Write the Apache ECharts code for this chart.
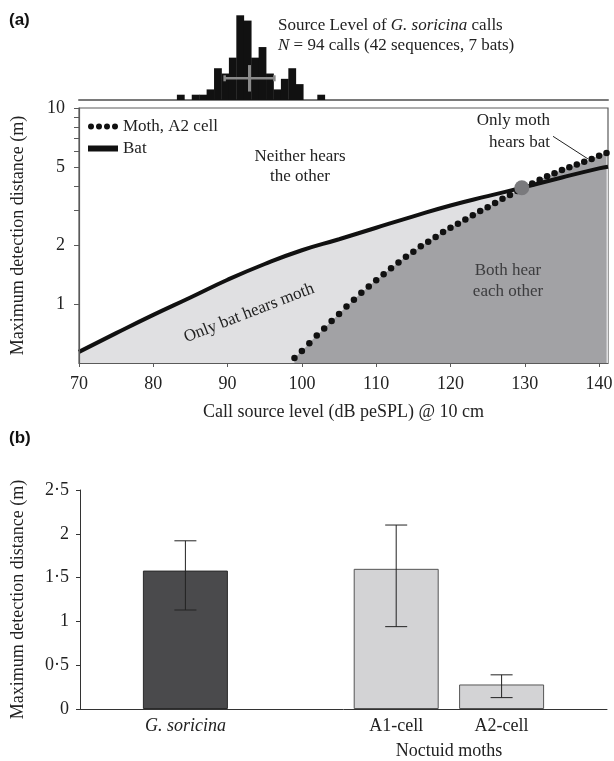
<!DOCTYPE html>
<html>
<head>
<meta charset="utf-8">
<script src="https://cdn.jsdelivr.net/npm/echarts@6/dist/echarts.min.js"></script>
<style>
html, body { margin: 0; padding: 0; background: #fff; }
#chart { width: 614px; height: 761px; }
</style>
</head>
<body>
<div id="chart"></div>
<script>
// (a) top: source level histogram of G. soricina calls
var histBins = [83.7, 85.7, 86.7, 87.7, 88.7, 89.7, 90.7, 91.7, 92.7, 93.7, 94.7, 95.7, 96.7, 97.7, 98.7, 99.7, 102.6];
var histCounts = [1, 1, 1, 2, 6, 5, 8, 16, 15, 8, 10, 5, 2, 4, 6, 3, 1];
var slMean = 92.95;
var slSd = 3.35;

// (a) detection distance vs call source level
var batDb = [70, 75, 80, 85, 90, 95, 100, 105, 110, 115, 120, 125, 130, 135, 140, 141.2];
var batDist = [0.57, 0.71, 0.88, 1.08, 1.33, 1.60, 1.88, 2.14, 2.45, 2.80, 3.18, 3.55, 3.95, 4.42, 4.92, 5.02];
var mothDb = [99, 100, 101, 102, 103, 104, 105, 106, 107, 108, 109, 110, 111, 112, 113, 114, 115, 116, 117, 118, 119, 120,
    121, 122, 123, 124, 125, 126, 127, 128, 129, 130, 131, 132, 133, 134, 135, 136, 137, 138, 139, 140, 141];
var mothDist = [0.53, 0.575, 0.63, 0.69, 0.75, 0.82, 0.89, 0.97, 1.05, 1.14, 1.23, 1.32, 1.42, 1.52, 1.63, 1.74, 1.85, 1.97,
    2.08, 2.20, 2.33, 2.45, 2.57, 2.70, 2.84, 2.98, 3.12, 3.28, 3.44, 3.60, 3.77, 3.95, 4.12, 4.30, 4.48, 4.65, 4.82, 4.98,
    5.15, 5.32, 5.50, 5.70, 5.90];
var crossPoint = [129.6, 3.92];
var xTicks = [70, 80, 90, 100, 110, 120, 130, 140];
var yLabelVals = [1, 2, 5, 10];
var yTickVals = [1, 2, 3, 4, 5, 6, 7, 8, 9, 10];

// (b) maximum detection distance
var barCats = ['', 'G. soricina', ' ', 'A1-cell', 'A2-cell', '  '];
var barMeans = [null, 1.58, null, 1.60, 0.28, null];
var barLow = [null, 1.13, null, 0.94, 0.13, null];
var barHigh = [null, 1.92, null, 2.10, 0.39, null];

var serif = 'Liberation Serif';

function pairs(xs, ys) {
    return xs.map(function (x, i) { return [x, ys[i]]; });
}

var errData = [];
for (var i = 0; i < barMeans.length; i++) {
    if (barMeans[i] != null) errData.push([i, barLow[i], barHigh[i]]);
}

var dotsIcon = 'path://M0,3a3,3 0 1,0 6,0a3,3 0 1,0 -6,0M8,3a3,3 0 1,0 6,0a3,3 0 1,0 -6,0' +
    'M16,3a3,3 0 1,0 6,0a3,3 0 1,0 -6,0M24,3a3,3 0 1,0 6,0a3,3 0 1,0 -6,0';

var myChart = echarts.init(document.getElementById('chart'), null, {width: 614, height: 761});
var option = {
    animation: false,
    backgroundColor: '#fff',
    textStyle: {fontFamily: serif},
    grid: [
        {left: 79, right: 6, top: 10, height: 90, outerBoundsMode: 'none'},
        {left: 79, right: 6, top: 108, height: 255, outerBoundsMode: 'none',
            show: true, borderColor: '#5a5a5a', borderWidth: 1.2, z: 3},
        {left: 80, right: 7, top: 490, height: 219, outerBoundsMode: 'none'}
    ],
    legend: {
        data: [
            {name: 'Moth, A2 cell', icon: dotsIcon},
            {name: 'Bat', icon: 'rect'}
        ],
        orient: 'vertical',
        left: 83,
        top: 113,
        itemWidth: 30,
        itemHeight: 6,
        itemGap: 5,
        selectedMode: false,
        itemStyle: {borderWidth: 0},
        textStyle: {fontFamily: serif, fontSize: 17, color: '#222'}
    },
    xAxis: [
        {
            gridIndex: 0, type: 'value', min: 70, max: 141.2,
            axisLine: {onZero: false, lineStyle: {color: '#7a7a7a', width: 2}},
            axisTick: {show: false}, axisLabel: {show: false}, splitLine: {show: false}
        },
        {
            gridIndex: 1, type: 'value', min: 70, max: 141.2, z: 4, position: 'bottom',
            name: 'Call source level (dB peSPL) @ 10 cm',
            nameLocation: 'middle', nameGap: 40,
            nameTextStyle: {fontFamily: serif, fontSize: 18, color: '#222'},
            axisLine: {onZero: false, lineStyle: {color: '#5a5a5a', width: 1.2}},
            axisTick: {customValues: xTicks, length: 4, lineStyle: {color: '#5a5a5a'}},
            axisLabel: {customValues: xTicks, fontFamily: serif, fontSize: 18, color: '#222', margin: 12},
            splitLine: {show: false}
        },
        {
            gridIndex: 2, type: 'category', data: barCats, boundaryGap: false,
            axisLine: {onZero: false, lineStyle: {color: '#333', width: 1}},
            axisTick: {show: false},
            axisLabel: {
                interval: 0, fontFamily: serif, fontSize: 18, color: '#222', margin: 8,
                formatter: function (v) { return v === 'G. soricina' ? '{it|' + v + '}' : v; },
                rich: {it: {fontStyle: 'italic', fontFamily: serif, fontSize: 18, color: '#222'}}
            }
        }
    ],
    yAxis: [
        {gridIndex: 0, type: 'value', min: 0, max: 17, show: false},
        {gridIndex: 1, type: 'log', logBase: 10, min: 0.5, max: 10, show: false, position: 'right'},
        {
            gridIndex: 1, type: 'value', min: Math.log10(0.5), max: 1, z: 4, position: 'left',
            name: 'Maximum detection distance (m)',
            nameLocation: 'middle', nameGap: 52,
            nameTextStyle: {fontFamily: serif, fontSize: 18, color: '#222'},
            axisLine: {show: true, onZero: false, lineStyle: {color: '#5a5a5a', width: 1.2}},
            axisTick: {customValues: yTickVals.map(Math.log10), length: 5, lineStyle: {color: '#5a5a5a'}},
            axisLabel: {
                customValues: yLabelVals.map(Math.log10), fontFamily: serif, fontSize: 18, color: '#222', margin: 14,
                formatter: function (v) { return String(Math.round(Math.pow(10, v))); }
            },
            splitLine: {show: false}
        },
        {
            gridIndex: 2, type: 'value', min: 0, max: 2.5, interval: 0.5,
            name: 'Maximum detection distance (m)',
            nameLocation: 'middle', nameGap: 53,
            nameTextStyle: {fontFamily: serif, fontSize: 18, color: '#222'},
            axisLine: {show: true, lineStyle: {color: '#333', width: 1}},
            axisTick: {show: true, length: 4, lineStyle: {color: '#333'}},
            axisLabel: {
                fontFamily: serif, fontSize: 18, color: '#222', margin: 11,
                formatter: function (v) { return String(v).replace('.', '\u00b7'); }
            },
            splitLine: {show: false}
        }
    ],
    series: [
        {
            name: 'hist', type: 'bar', xAxisIndex: 0, yAxisIndex: 0,
            data: pairs(histBins, histCounts), barWidth: 7.8,
            itemStyle: {color: '#111'}, silent: true
        },
        {
            name: 'mean sd', type: 'custom', xAxisIndex: 0, yAxisIndex: 0, z: 5, silent: true,
            data: [[slMean, slSd]],
            renderItem: function (params, api) {
                var m = api.value(0), sd = api.value(1);
                var a = api.coord([m - sd, 4.1]);
                var b = api.coord([m + sd, 4.1]);
                var top = api.coord([m, 6.6]);
                var bot = api.coord([m, 1.6]);
                var st = {stroke: '#8a8a8a', lineWidth: 2.5};
                return {
                    type: 'group', children: [
                        {type: 'line', shape: {x1: a[0], y1: a[1], x2: b[0], y2: b[1]}, style: st},
                        {type: 'line', shape: {x1: a[0], y1: a[1] - 3, x2: a[0], y2: a[1] + 3}, style: st},
                        {type: 'line', shape: {x1: b[0], y1: b[1] - 3, x2: b[0], y2: b[1] + 3}, style: st},
                        {type: 'line', shape: {x1: top[0], y1: top[1], x2: bot[0], y2: bot[1]},
                            style: {stroke: '#8a8a8a', lineWidth: 3}}
                    ]
                };
            }
        },
        {
            name: 'batArea', type: 'line', xAxisIndex: 1, yAxisIndex: 1, silent: true,
            data: pairs(batDb, batDist), smooth: true, showSymbol: false,
            lineStyle: {width: 0, opacity: 0},
            areaStyle: {color: '#e0e0e2', opacity: 1, origin: 'start'}
        },
        {
            name: 'mothArea', type: 'line', xAxisIndex: 1, yAxisIndex: 1, silent: true,
            data: pairs(mothDb, mothDist), smooth: true, showSymbol: false,
            lineStyle: {width: 0, opacity: 0},
            areaStyle: {color: '#a2a2a5', opacity: 1, origin: 'start'}
        },
        {
            name: 'Bat', type: 'line', xAxisIndex: 1, yAxisIndex: 1,
            data: pairs(batDb, batDist), smooth: true, showSymbol: false,
            itemStyle: {color: '#111'},
            lineStyle: {color: '#111', width: 4}
        },
        {
            name: 'Moth, A2 cell', type: 'line', xAxisIndex: 1, yAxisIndex: 1,
            data: pairs(mothDb, mothDist), symbol: 'circle', symbolSize: 6.5, showSymbol: true,
            itemStyle: {color: '#111', borderWidth: 0},
            lineStyle: {width: 0, opacity: 0}
        },
        {
            name: 'cross', type: 'scatter', xAxisIndex: 1, yAxisIndex: 1, z: 6,
            data: [crossPoint], symbolSize: 15,
            itemStyle: {color: '#7a7a7d', opacity: 1}
        },
        {
            name: 'pointer', type: 'line', xAxisIndex: 1, yAxisIndex: 1, z: 6, silent: true,
            data: [[133.8, 7.17], [138.5, 5.5]], showSymbol: false,
            lineStyle: {color: '#222', width: 1}
        },
        {
            name: 'detection', type: 'bar', xAxisIndex: 2, yAxisIndex: 3, barWidth: 85,
            data: barMeans.map(function (v, i) {
                return {
                    value: v,
                    itemStyle: {
                        color: i === 1 ? '#4a4a4c' : '#d3d3d5',
                        borderColor: i === 1 ? '#2a2a2a' : '#555',
                        borderWidth: 1
                    }
                };
            })
        },
        {
            name: 'err', type: 'custom', xAxisIndex: 2, yAxisIndex: 3, z: 5, silent: true,
            data: errData,
            renderItem: function (params, api) {
                var lo = api.coord([api.value(0), api.value(1)]);
                var hi = api.coord([api.value(0), api.value(2)]);
                var st = {stroke: '#222', lineWidth: 1};
                return {
                    type: 'group', children: [
                        {type: 'line', shape: {x1: lo[0], y1: lo[1], x2: hi[0], y2: hi[1]}, style: st},
                        {type: 'line', shape: {x1: lo[0] - 11, y1: lo[1], x2: lo[0] + 11, y2: lo[1]}, style: st},
                        {type: 'line', shape: {x1: hi[0] - 11, y1: hi[1], x2: hi[0] + 11, y2: hi[1]}, style: st}
                    ]
                };
            }
        }
    ],
    graphic: [
        {type: 'text', left: 9, top: 12, style: {text: '(a)', font: 'bold 17px "Liberation Sans"', fill: '#111'}},
        {type: 'text', left: 9, top: 430, style: {text: '(b)', font: 'bold 17px "Liberation Sans"', fill: '#111'}},
        {
            type: 'text', x: 278, y: 26, z: 10,
            style: {
                text: 'Source Level of {it|G. soricina} calls', fontFamily: serif, fontSize: 17, fill: '#222',
                verticalAlign: 'middle', rich: {it: {fontStyle: 'italic', fontFamily: serif, fontSize: 17, fill: '#222'}}
            }
        },
        {
            type: 'text', x: 278, y: 46, z: 10,
            style: {
                text: '{it|N} = 94 calls (42 sequences, 7 bats)', fontFamily: serif, fontSize: 17, fill: '#222',
                verticalAlign: 'middle', rich: {it: {fontStyle: 'italic', fontFamily: serif, fontSize: 17, fill: '#222'}}
            }
        },
        {
            type: 'text', x: 300, y: 167, z: 10,
            style: {text: 'Neither hears\nthe other', fontFamily: serif, fontSize: 17, lineHeight: 20, fill: '#222',
                align: 'center', verticalAlign: 'middle'}
        },
        {
            type: 'text', x: 550, y: 132, z: 10,
            style: {text: 'Only moth\nhears bat', fontFamily: serif, fontSize: 17, lineHeight: 22, fill: '#222',
                align: 'right', verticalAlign: 'middle'}
        },
        {
            type: 'text', x: 508, y: 281, z: 10,
            style: {text: 'Both hear\neach other', fontFamily: serif, fontSize: 17, lineHeight: 21, fill: '#3c3c3e',
                align: 'center', verticalAlign: 'middle'}
        },
        {
            type: 'text', x: 249, y: 313, rotation: 0.37, z: 10,
            style: {text: 'Only bat hears moth', fontFamily: serif, fontSize: 17, fill: '#222',
                align: 'center', verticalAlign: 'middle'}
        },
        {
            type: 'text', x: 449, y: 751, z: 10,
            style: {text: 'Noctuid moths', fontFamily: serif, fontSize: 18, fill: '#222',
                align: 'center', verticalAlign: 'middle'}
        }
    ]
};
myChart.setOption(option);
</script>
</body>
</html>
